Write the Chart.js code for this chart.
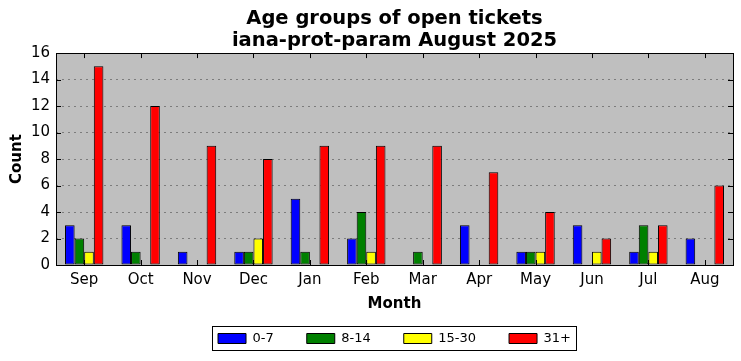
<!DOCTYPE html>
<html><head><meta charset="utf-8">
<script src="https://cdn.jsdelivr.net/npm/chart.js@4/dist/chart.umd.min.js"></script>
<style>html,body{margin:0;padding:0;background:#fff}#wrap{width:741px;height:361px}</style>
</head><body><div id="wrap"><canvas id="c" width="741" height="361"></canvas></div>
<script>
const months = ["Sep","Oct","Nov","Dec","Jan","Feb","Mar","Apr","May","Jun","Jul","Aug"];
const age0to7   = [3,3,1,1,5,2,0,3,1,3,1,2];
const age8to14  = [2,1,0,1,1,4,1,0,1,0,3,0];
const age15to30 = [1,0,0,2,0,1,0,0,1,1,1,0];
const age31plus = [15,12,9,8,9,9,9,7,4,2,3,6];
const seriesLabels = ["0-7","8-14","15-30","31+"];
const seriesColors = ["#0000ff","#008000","#ffff00","#ff0000"];
const yTicks = [0,2,4,6,8,10,12,14,16];

const FONT = "'DejaVu Sans', sans-serif";
const LEGEND_H = 52;
const frame = {
  id:'frame',
  beforeLayout(chart){
    const lg = chart.legend;
    if (lg && !lg._patched){
      const orig = lg.fit;
      lg.fit = function(){ orig.call(this); this.height = LEGEND_H; };
      lg._patched = true;
    }
  },
  beforeDraw(chart){
    const a = chart.chartArea, ctx = chart.ctx;
    ctx.save(); ctx.fillStyle = '#bfbfbf';
    ctx.fillRect(a.left, a.top, a.right-a.left, a.bottom-a.top); ctx.restore();
  },
  afterDatasetsDraw(chart){
    const a = chart.chartArea, ctx = chart.ctx;
    ctx.save();
    ctx.strokeStyle = '#000'; ctx.lineWidth = 1;
    const x = chart.scales.x, y = chart.scales.y;
    ctx.beginPath();
    for (let i=0;i<months.length;i++){
      const px = Math.round(x.getPixelForTick(i))+0.5;
      ctx.moveTo(px, a.bottom); ctx.lineTo(px, a.bottom-5);
      ctx.moveTo(px, a.top); ctx.lineTo(px, a.top+5);
    }
    for (const v of yTicks){
      const py = Math.round(y.getPixelForValue(v))+0.5;
      ctx.moveTo(a.left, py); ctx.lineTo(a.left+5, py);
      ctx.moveTo(a.right, py); ctx.lineTo(a.right-5, py);
    }
    ctx.stroke();
    ctx.strokeRect(Math.round(a.left)+0.5, Math.round(a.top)+0.5, Math.round(a.right-a.left), Math.round(a.bottom-a.top));
    ctx.restore();
  },
  afterDraw(chart){
    const ctx = chart.ctx, lg = chart.legend;
    if (lg && lg.legendHitBoxes && lg.legendHitBoxes.length){
      const hb = lg.legendHitBoxes;
      let l = Infinity, r = -Infinity, t = Infinity, b = -Infinity;
      hb.forEach(h=>{l=Math.min(l,h.left);r=Math.max(r,h.left+h.width);t=Math.min(t,h.top);b=Math.max(b,h.top+h.height);});
      ctx.save(); ctx.strokeStyle='#000'; ctx.lineWidth=1;
      ctx.strokeRect(Math.round(l-6)+0.5, Math.round(t-6)+0.5, Math.round(r-l+11), Math.round(b-t+11));
      ctx.restore();
    }
  }
};

new Chart(document.getElementById('c'), {
  type:'bar',
  data:{
    labels: months,
    datasets:[age0to7,age8to14,age15to30,age31plus].map((d,i)=>({
      label: seriesLabels[i], data: d,
      backgroundColor: seriesColors[i], borderColor:'#000', borderWidth:1, borderSkipped:false,
      inflateAmount:0, categoryPercentage:0.68, barPercentage:1.0
    }))
  },
  options:{
    responsive:false, animation:false, devicePixelRatio:1,
    layout:{padding:{left:0,right:8,top:0,bottom:10}},
    plugins:{
      title:{display:true, fullSize:false, text:["Age groups of open tickets","iana-prot-param August 2025"],
        color:'#000', font:{family:FONT, size:19.5, weight:'bold', lineHeight:1.13}, padding:{top:8,bottom:1}},
      legend:{position:'bottom', fullSize:false,
        labels:{boxWidth:28, boxHeight:10, color:'#000', font:{family:FONT,size:13}, padding:33},
      },
      tooltip:{enabled:false}
    },
    scales:{
      x:{
        grid:{display:false, drawTicks:false},
        border:{display:false},
        ticks:{color:'#000', font:{family:FONT,size:15}, padding:6},
        title:{display:true, text:'Month', color:'#000', font:{family:FONT,size:15,weight:'bold'}, padding:{top:0,bottom:-14}},
        afterFit(s){ s.height = 34; }
      },
      y:{
        min:0, max:16,
        afterBuildTicks(s){ s.ticks = yTicks.map(v=>({value:v})); },
        grid:{color:'rgba(0,0,0,0.35)', drawTicks:false, lineWidth:1},
        border:{display:false, dash:[2,4]},
        ticks:{color:'#000', font:{family:FONT,size:15}, padding:6},
        title:{display:true, text:'Count', color:'#000', font:{family:FONT,size:15,weight:'bold'}, padding:{top:8,bottom:0}},
        afterFit(s){ s.width = 56; }
      }
    }
  },
  plugins:[frame]
});
</script></body></html>
